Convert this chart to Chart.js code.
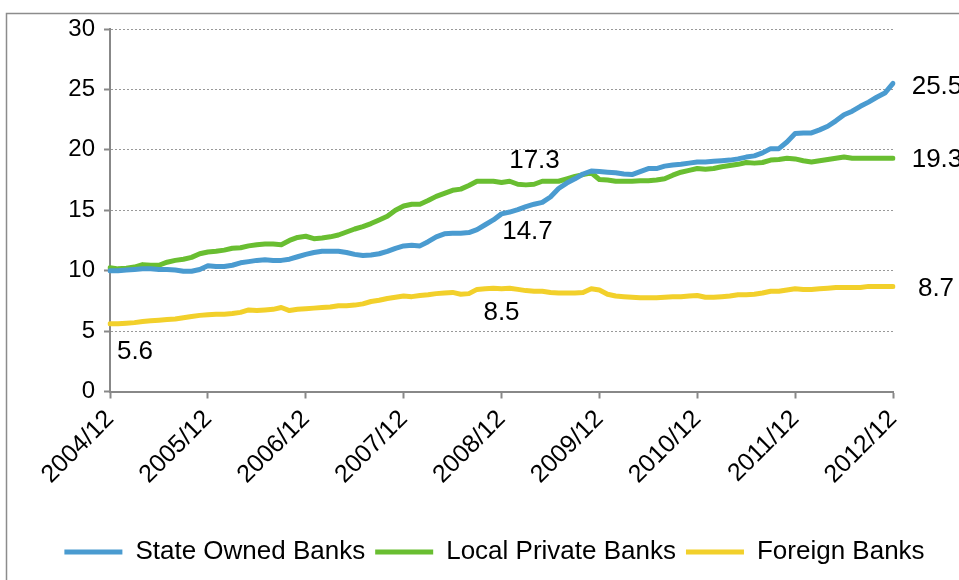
<!DOCTYPE html>
<html>
<head>
<meta charset="utf-8">
<script src="https://cdn.jsdelivr.net/npm/chart.js@4.4.0/dist/chart.umd.min.js"></script>
<style>
html,body{margin:0;padding:0;background:#fff;}
#wrap{width:959px;height:580px;position:relative;overflow:hidden;}
</style>
</head>
<body>
<div id="wrap"><canvas id="c" width="959" height="580"></canvas></div>
<script>
// ---- data ----
const tickLabels = ['2004/12','2005/12','2006/12','2007/12','2008/12','2009/12','2010/12','2011/12','2012/12'];
const seriesNames = ['State Owned Banks','Local Private Banks','Foreign Banks'];

const stateOwned = [10.0,10.0,10.05,10.1,10.15,10.15,10.1,10.1,10.05,9.95,9.95,10.1,
10.4,10.35,10.35,10.45,10.65,10.75,10.85,10.9,10.85,10.85,10.95,11.15,
11.35,11.5,11.6,11.6,11.6,11.5,11.35,11.25,11.3,11.4,11.6,11.85,
12.05,12.1,12.05,12.4,12.8,13.05,13.1,13.1,13.15,13.4,13.8,14.2,
14.7,14.85,15.05,15.3,15.5,15.65,16.1,16.8,17.25,17.6,18.0,18.25,
18.2,18.15,18.1,18.0,17.95,18.2,18.45,18.45,18.65,18.75,18.8,18.9,
19.0,19.0,19.05,19.1,19.15,19.25,19.4,19.5,19.75,20.1,20.1,20.65,
21.35,21.4,21.4,21.65,21.95,22.4,22.9,23.2,23.6,23.95,24.35,24.7,
25.5];

const localPrivate = [10.25,10.15,10.2,10.3,10.5,10.45,10.45,10.7,10.85,10.95,11.1,11.4,
11.55,11.6,11.7,11.85,11.9,12.05,12.15,12.2,12.2,12.15,12.5,12.75,
12.85,12.65,12.7,12.8,12.95,13.2,13.45,13.65,13.9,14.2,14.5,15.0,
15.35,15.5,15.5,15.8,16.15,16.4,16.65,16.75,17.05,17.4,17.4,17.4,
17.3,17.4,17.15,17.1,17.15,17.4,17.4,17.4,17.6,17.8,17.95,18.1,
17.55,17.5,17.4,17.4,17.4,17.45,17.45,17.5,17.6,17.9,18.15,18.3,
18.45,18.4,18.45,18.6,18.7,18.8,18.95,18.9,18.95,19.15,19.2,19.3,
19.25,19.1,19.0,19.1,19.2,19.3,19.4,19.3,19.3,19.3,19.3,19.3,
19.3];

const foreignBanks = [5.6,5.6,5.65,5.7,5.8,5.85,5.9,5.95,6.0,6.1,6.2,6.3,
6.35,6.4,6.4,6.45,6.55,6.75,6.7,6.75,6.8,6.95,6.7,6.8,
6.85,6.9,6.95,7.0,7.1,7.1,7.15,7.25,7.45,7.55,7.7,7.8,
7.9,7.85,7.95,8.0,8.1,8.15,8.2,8.05,8.1,8.45,8.5,8.55,
8.5,8.55,8.45,8.35,8.3,8.3,8.2,8.15,8.15,8.15,8.2,8.5,
8.4,8.05,7.9,7.85,7.8,7.75,7.75,7.75,7.8,7.85,7.85,7.9,
7.95,7.8,7.8,7.85,7.9,8.0,8.0,8.05,8.15,8.3,8.3,8.4,
8.5,8.45,8.45,8.5,8.55,8.6,8.6,8.6,8.6,8.7,8.7,8.7,
8.7];

// labelled points: [series index, point index]
const labelledPoints = [[0,48],[0,96],[1,48],[1,96],[2,0],[2,48],[2,96]];

// monthly categories from 2004/12 to 2012/12
const categories = [];
(function(){
  let y = 2004, m = 12;
  for (let i = 0; i < stateOwned.length; i++) {
    categories.push(y + '/' + String(m).padStart(2,'0'));
    m++; if (m > 12) { m = 1; y++; }
  }
})();

// ---- styling ----
const colors = ['#4a9bd0','#69be31','#f2d02b'];
const FONT = "'Liberation Sans', Arial, sans-serif";
Chart.defaults.font.family = FONT;
Chart.defaults.color = '#000';

const labelOffsets = {'0-48':[26,18],'0-96':[44,3],'1-48':[33,-22],'1-96':[44,2],'2-0':[25,28],'2-48':[0,24],'2-96':[43,2]};

const pointLabelPlugin = {
  id: 'pointLabels',
  afterDatasetsDraw(chart) {
    const ctx = chart.ctx;
    const xs = chart.scales.x, ys = chart.scales.y;
    ctx.save();
    ctx.font = '26px ' + FONT;
    ctx.fillStyle = '#000';
    ctx.textAlign = 'center';
    ctx.textBaseline = 'middle';
    labelledPoints.forEach(([s, i]) => {
      const v = chart.data.datasets[s].data[i];
      const off = labelOffsets[s + '-' + i] || [0, 0];
      ctx.fillText(v.toFixed(1), xs.getPixelForValue(i) + off[0], ys.getPixelForValue(v) + off[1]);
    });
    ctx.restore();
  }
};

const borderPlugin = {
  id: 'outerBorder',
  beforeDraw(chart) {
    const ctx = chart.ctx;
    ctx.save();
    ctx.strokeStyle = '#8c8c8c';
    ctx.lineWidth = 1.5;
    ctx.strokeRect(6.5, 13.5, 2000, 2000);
    ctx.restore();
  }
};

const seriesData = [stateOwned, localPrivate, foreignBanks];

new Chart(document.getElementById('c'), {
  type: 'line',
  data: {
    labels: categories,
    datasets: seriesData.map((d, k) => ({
      label: seriesNames[k],
      data: d,
      yAxisID: 'y',
      borderColor: colors[k],
      backgroundColor: colors[k],
      borderWidth: 5,
      pointRadius: 0,
      pointHoverRadius: 0,
      tension: 0,
      borderCapStyle: 'round',
      borderJoinStyle: 'round',
      fill: false
    }))
  },
  options: {
    responsive: false,
    animation: false,
    devicePixelRatio: 1,
    layout: { padding: { left: 30, right: 0, top: 29, bottom: 5 } },
    plugins: {
      tooltip: { enabled: false },
      legend: {
        position: 'bottom',
        labels: {
          usePointStyle: true,
          pointStyle: 'line',
          pointStyleWidth: 58,
          boxHeight: 26,
          padding: 10,
          font: { size: 26, family: FONT },
          color: '#000'
        }
      }
    },
    scales: {
      x: {
        type: 'category',
        offset: false,
        afterFit(scale) { scale.height = 137.5; },
        ticks: {
          autoSkip: false,
          maxRotation: 45,
          minRotation: 45,
          padding: 6,
          font: { size: 25, family: FONT },
          color: '#000',
          callback(val, idx) {
            return idx % 12 === 0 ? tickLabels[idx / 12] : null;
          }
        },
        grid: { drawOnChartArea: false, drawTicks: true, tickLength: 7, color: '#888', tickColor: '#888', tickWidth: 2 },
        border: { color: '#888', width: 2 }
      },
      y: {
        position: 'left',
        min: 0,
        max: 30,
        afterFit(scale) { scale.width = 80; },
        ticks: { stepSize: 5, padding: 9, font: { size: 24, family: FONT }, color: '#000' },
        grid: { color: '#999', lineWidth: 1, drawTicks: true, tickLength: 6, tickColor: '#888', tickWidth: 2, tickBorderDash: [] },
        border: { color: '#888', width: 2, dash: [2, 2] }
      },
      yRightSpace: {
        type: 'linear',
        position: 'right',
        display: true,
        afterFit(scale) { scale.width = 66; },
        ticks: { display: false },
        grid: { display: false, drawTicks: false },
        border: { display: false }
      }
    }
  },
  plugins: [pointLabelPlugin, borderPlugin]
});
</script>
</body>
</html>
